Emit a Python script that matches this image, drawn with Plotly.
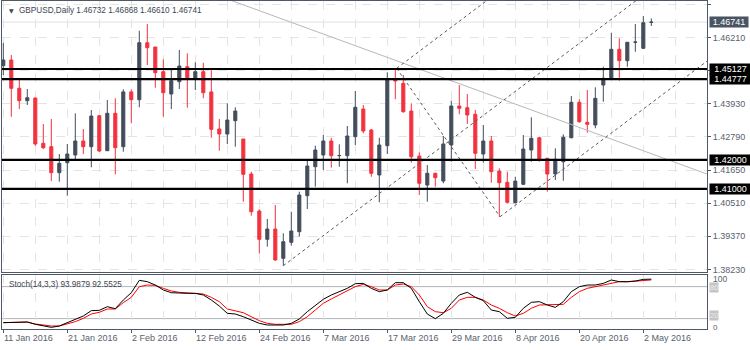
import plotly.graph_objects as go
import pandas as pd

# ---------------- data ----------------
dates = pd.bdate_range("2016-01-11", periods=82)

opens = [1.45241, 1.45437, 1.44463, 1.44036, 1.44129, 1.42570, 1.42453, 1.41558, 1.41902, 1.42167,
         1.42649, 1.42453, 1.43520, 1.42315, 1.43602, 1.42453, 1.44340, 1.44070, 1.46032, 1.45884,
         1.45034, 1.44267, 1.44690, 1.45206, 1.44773, 1.45034, 1.44340, 1.43062, 1.42890, 1.43347,
         1.42718, 1.41513, 1.40240, 1.39265, 1.39620, 1.38611, 1.39162, 1.39527, 1.40766, 1.41764,
         1.42167, 1.42649, 1.42143, 1.42143, 1.42797, 1.43750, 1.43027, 1.41479, 1.42487, 1.44773,
         1.44635, 1.43681, 1.42132, 1.41134, 1.41537, 1.41270, 1.42511, 1.43853, 1.43795, 1.43568,
         1.42201, 1.42649, 1.41616, 1.41227, 1.40525, 1.41158, 1.42339, 1.42762, 1.42053, 1.41513,
         1.41936, 1.42762, 1.43981, 1.43292, 1.43200, 1.44576, 1.44783, 1.45805, 1.45413, 1.46046,
         1.45840, 1.46732]
highs = [1.46022, 1.45610, 1.44783, 1.44439, 1.44140, 1.43234, 1.43406, 1.42201, 1.42546, 1.43602,
         1.43062, 1.43716, 1.43544, 1.44060, 1.44118, 1.44428, 1.44428, 1.46445, 1.46676, 1.45884,
         1.45461, 1.45151, 1.45781, 1.45667, 1.45358, 1.45344, 1.45151, 1.43406, 1.43946, 1.43809,
         1.42718, 1.41592, 1.40298, 1.39964, 1.40446, 1.39472, 1.40215, 1.40904, 1.41971, 1.42487,
         1.42855, 1.42762, 1.42535, 1.43165, 1.44370, 1.43888, 1.43062, 1.42762, 1.45013, 1.45151,
         1.44920, 1.43946, 1.42260, 1.41823, 1.41558, 1.42821, 1.44036, 1.44576, 1.44267, 1.43716,
         1.43200, 1.42821, 1.41709, 1.41592, 1.41420, 1.42855, 1.43464, 1.42797, 1.42074, 1.42397,
         1.42879, 1.44198, 1.44084, 1.44404, 1.44497, 1.45206, 1.46376, 1.46184, 1.46060, 1.46676,
         1.46951, 1.46868]
lows = [1.44920, 1.43485, 1.43750, 1.43888, 1.42487, 1.42373, 1.41270, 1.41248, 1.40766, 1.41995,
        1.42201, 1.41743, 1.42270, 1.42305, 1.41503, 1.42280, 1.43258, 1.43809, 1.45265, 1.44483,
        1.43485, 1.43750, 1.44439, 1.43795, 1.44404, 1.44118, 1.42762, 1.42315, 1.42546, 1.42453,
        1.40559, 1.40078, 1.38783, 1.39011, 1.38529, 1.38357, 1.39045, 1.39355, 1.40308, 1.41076,
        1.41651, 1.41730, 1.41764, 1.41193, 1.42511, 1.42914, 1.41420, 1.40539, 1.42201, 1.44084,
        1.43623, 1.41902, 1.40790, 1.40559, 1.41076, 1.41193, 1.41936, 1.43568, 1.43234, 1.41685,
        1.41902, 1.41213, 1.40043, 1.40504, 1.40504, 1.41134, 1.41936, 1.41936, 1.40904, 1.41306,
        1.41282, 1.42742, 1.43279, 1.42935, 1.43086, 1.44001, 1.44748, 1.44724, 1.45206, 1.45722,
        1.45815, 1.46610]
closes = [1.45437, 1.44463, 1.44036, 1.44139, 1.42546, 1.42418, 1.41558, 1.41881, 1.42201, 1.42649,
          1.42453, 1.43509, 1.42305, 1.43602, 1.42418, 1.44340, 1.44070, 1.46032, 1.45860, 1.45000,
          1.44311, 1.44724, 1.45230, 1.44773, 1.45034, 1.44311, 1.43051, 1.42890, 1.43372, 1.43681,
          1.41503, 1.40215, 1.39265, 1.39620, 1.38553, 1.39183, 1.39551, 1.40790, 1.41788, 1.42339,
          1.42649, 1.42143, 1.42150, 1.42821, 1.43809, 1.42993, 1.41537, 1.42511, 1.44773, 1.44714,
          1.43657, 1.42108, 1.41193, 1.41537, 1.41386, 1.42546, 1.43853, 1.43774, 1.43544, 1.42225,
          1.42649, 1.41592, 1.41213, 1.40539, 1.41270, 1.42373, 1.42742, 1.41995, 1.41513, 1.42019,
          1.42776, 1.43981, 1.43313, 1.43224, 1.44118, 1.44807, 1.45805, 1.45413, 1.46046, 1.46055,
          1.46721, 1.46741]

stoch_k = [12.4, 12.4, 13.6, 13.6, 9.3, 6.1, 3.6, 6.1, 12.4, 18.6,
           24.9, 34.9, 35.5, 42.4, 38.6, 54.9, 68.6, 91.8, 89.3, 83.0,
           73.7, 68.6, 67.4, 67.4, 67.4, 64.3, 54.9, 43.6, 29.9, 28.6,
           23.6, 17.4, 11.1, 8.0, 8.0, 8.0, 11.1, 19.3, 33.0, 45.5,
           56.2, 64.3, 70.5, 76.8, 85.5, 86.1, 76.8, 70.5, 73.7, 87.4,
           87.4, 76.8, 51.8, 28.6, 19.9, 29.9, 48.7, 64.3, 69.3, 59.9,
           53.7, 36.1, 33.0, 20.5, 22.4, 39.3, 50.5, 51.8, 45.5, 41.1,
           51.8, 70.5, 79.9, 83.0, 83.0, 86.1, 92.4, 89.3, 89.3, 90.5,
           93.6, 93.9879]
stoch_d = [12.4, 12.4, 13.6, 13.6, 9.9, 8.0, 6.1, 6.1, 9.9, 14.3,
           20.5, 28.6, 31.8, 38.0, 38.0, 49.9, 59.9, 79.9, 83.0, 82.4,
           76.8, 71.8, 69.3, 68.0, 67.4, 66.1, 59.9, 51.8, 38.0, 34.9,
           31.1, 23.6, 16.1, 11.1, 9.3, 9.3, 9.3, 14.3, 23.6, 36.1,
           48.7, 56.8, 64.3, 71.8, 79.9, 84.3, 79.9, 73.7, 73.7, 83.0,
           84.9, 79.9, 64.3, 42.4, 33.0, 31.1, 39.3, 54.9, 59.9, 59.9,
           54.9, 45.5, 39.3, 31.1, 24.9, 29.9, 39.3, 45.5, 45.5, 45.5,
           46.8, 59.9, 70.5, 76.8, 79.9, 83.0, 86.1, 89.3, 89.0, 90.5,
           92.4, 92.5525]

levels = [1.45127, 1.44777, 1.42000, 1.41000]
price_ticks = [1.38230, 1.39370, 1.40510, 1.41650, 1.42790, 1.43930, 1.45070, 1.46210, 1.47350]
hidden_ticks = [1.45070]
stoch_levels = [80, 20]

# trend lines: (bar index, price) pairs
trend_gray = ([28.34, 87.96], [1.47502, 1.41513])
channel_low = ([35.0, 79.2], [1.38357, 1.47502])
channel_high = ([49.17, 60.53], [1.45151, 1.47502])
channel_third = ([62.09, 88.0], [1.40043, 1.45406])
fall_line = ([49.17, 62.09], [1.45151, 1.40043])

title_text = "GBPUSD,Daily 1.46732 1.46868 1.46610 1.46741"
stoch_text = "Stoch(14,3,3) 93.9879 92.5525"
label_every = 8

# ---------------- styling ----------------
BULL = "#434d5b"
BEAR = "#f2333f"
FRAME = "#4f5966"
TXT = "#59626d"
GRID = "#e4e4e4"
FONT = "Liberation Sans, Arial, sans-serif"

idx = list(range(len(dates)))

fig = go.Figure()

fig.add_trace(go.Candlestick(
    x=idx, open=opens, high=highs, low=lows, close=closes,
    increasing=dict(line=dict(color=BULL, width=1), fillcolor=BULL),
    decreasing=dict(line=dict(color=BEAR, width=1), fillcolor=BEAR),
    whiskerwidth=0, hoverinfo="skip", showlegend=False,
    xaxis="x", yaxis="y"))

def tline(pts, color, dash, width=1):
    fig.add_trace(go.Scatter(x=pts[0], y=pts[1], mode="lines",
                             line=dict(color=color, width=width, dash=dash),
                             hoverinfo="skip", showlegend=False,
                             xaxis="x", yaxis="y"))

tline(trend_gray, "#b8b8b8", "solid")
for ln in (channel_low, channel_high, channel_third, fall_line):
    tline(ln, "#5a5a5a", "3px,3px")

# stochastic
fig.add_trace(go.Scatter(x=idx, y=stoch_d, mode="lines", line=dict(color="#ff0000", width=1),
                         hoverinfo="skip", showlegend=False, xaxis="x2", yaxis="y2"))
fig.add_trace(go.Scatter(x=idx, y=stoch_k, mode="lines", line=dict(color="#000000", width=1),
                         hoverinfo="skip", showlegend=False, xaxis="x2", yaxis="y2"))

shapes = []
# current price line
shapes.append(dict(type="line", xref="x domain", yref="y", x0=0, x1=1,
                   y0=closes[-1], y1=closes[-1], line=dict(color="#e0e0e0", width=1), layer="below"))
for lv in levels:
    shapes.append(dict(type="line", xref="x domain", yref="y", x0=0, x1=1, y0=lv, y1=lv,
                       line=dict(color="#000000", width=2.2), layer="above"))
for lv in stoch_levels:
    shapes.append(dict(type="line", xref="x2 domain", yref="y2", x0=0, x1=1, y0=lv, y1=lv,
                       line=dict(color="#b4b4b4", width=1), layer="below"))

ann = []
# title
ann.append(dict(xref="paper", yref="paper", x=0, y=1, xanchor="center", yanchor="middle",
                xshift=9.5, yshift=-9.5, text="▼", showarrow=False,
                font=dict(family="DejaVu Sans", size=6, color="#3d4654")))
ann.append(dict(xref="paper", yref="paper", x=0, y=1, xanchor="left", yanchor="middle",
                xshift=15, yshift=-9.5, text=title_text, showarrow=False,
                font=dict(family=FONT, size=8.2, color="#3d4654")))
ann.append(dict(xref="paper", yref="y2 domain", x=0, y=1, xanchor="left", yanchor="middle",
                xshift=5, yshift=-9, text=stoch_text, showarrow=False,
                font=dict(family=FONT, size=8.2, color="#3d4654")))
# level boxes
for lv in levels:
    ann.append(dict(xref="paper", yref="y", x=1, y=lv, xanchor="left", yanchor="middle",
                    xshift=2, text=f"{lv:.5f}", showarrow=False, width=41, align="center",
                    bgcolor="#000000", borderpad=0, font=dict(family=FONT, size=9, color="#ffffff")))
ann.append(dict(xref="paper", yref="y", x=1, y=closes[-1], xanchor="left", yanchor="middle",
                xshift=2, text=f"{closes[-1]:.5f}", showarrow=False, width=38, align="center",
                bgcolor="#4a5563", borderpad=0, font=dict(family=FONT, size=9, color="#ffffff")))
# stoch axis labels (levels in grey boxes, scale max/min as plain text)
for lv in stoch_levels:
    ann.append(dict(xref="paper", yref="y2", x=1, y=lv, xanchor="left", yanchor="middle",
                    xshift=2, yshift=(-1 if lv > 50 else 3), text=str(lv), showarrow=False,
                    bgcolor="#c4c4c4", borderpad=0,
                    font=dict(family=FONT, size=7.5, color="#eeeeee")))
ann.append(dict(xref="paper", yref="y2 domain", x=1, y=1, xanchor="left", yanchor="middle",
                xshift=4, yshift=-4, text="100", showarrow=False,
                font=dict(family=FONT, size=8.5, color=TXT)))
ann.append(dict(xref="paper", yref="y2 domain", x=1, y=0, xanchor="left", yanchor="middle",
                xshift=4, yshift=2, text="0", showarrow=False,
                font=dict(family=FONT, size=8, color=TXT)))
# date labels
for i in range(0, len(dates), label_every):
    d = dates[i]
    ann.append(dict(xref="x2", yref="paper", x=i, y=0, xanchor="left", yanchor="top",
                    xshift=-1, yshift=-2, text=f"{d.day} {d.strftime('%b %Y')}", showarrow=False,
                    font=dict(family=FONT, size=9, color=TXT)))

xr = [-0.1625, 87.96]
common_x = dict(range=xr, showline=True, linecolor=FRAME, linewidth=1, mirror=True,
                tickmode="linear", tick0=0, dtick=label_every,
                showgrid=True, gridcolor=GRID, griddash="dash", gridwidth=1,
                minor=dict(dtick=label_every / 2, tick0=0, showgrid=True, gridcolor=GRID, griddash="dash"),
                showticklabels=False, zeroline=False, fixedrange=True)

fig.update_layout(
    width=750, height=350,
    margin=dict(l=2, r=43, t=1, b=21),
    paper_bgcolor="#ffffff", plot_bgcolor="#ffffff",
    boxgap=0.45,
    showlegend=False,
    xaxis=dict(**common_x, anchor="y", domain=[0, 1], rangeslider=dict(visible=False), ticks=""),
    xaxis2=dict(**common_x, anchor="y2", domain=[0, 1], ticks="outside", ticklen=3, tickcolor=FRAME),
    yaxis=dict(domain=[0.17378, 1.0], range=[1.3814, 1.47468], side="right", anchor="x",
               showline=True, linecolor=FRAME, linewidth=1, mirror=True,
               tickmode="array", tickvals=price_ticks,
               ticktext=["" if t in hidden_ticks else f"{t:.5f}" for t in price_ticks],
               ticks="outside", ticklen=3, tickcolor=FRAME,
               showgrid=True, gridcolor=GRID, griddash="dash",
               tickfont=dict(family=FONT, size=9, color=TXT), zeroline=False, fixedrange=True),
    yaxis2=dict(domain=[0, 0.16463], range=[0.5, 101.8], side="right", anchor="x2",
                showline=True, linecolor=FRAME, linewidth=1, mirror=True,
                showticklabels=False, ticks="", showgrid=False, zeroline=False, fixedrange=True),
    shapes=shapes, annotations=ann,
)

fig.write_html("out.html")
